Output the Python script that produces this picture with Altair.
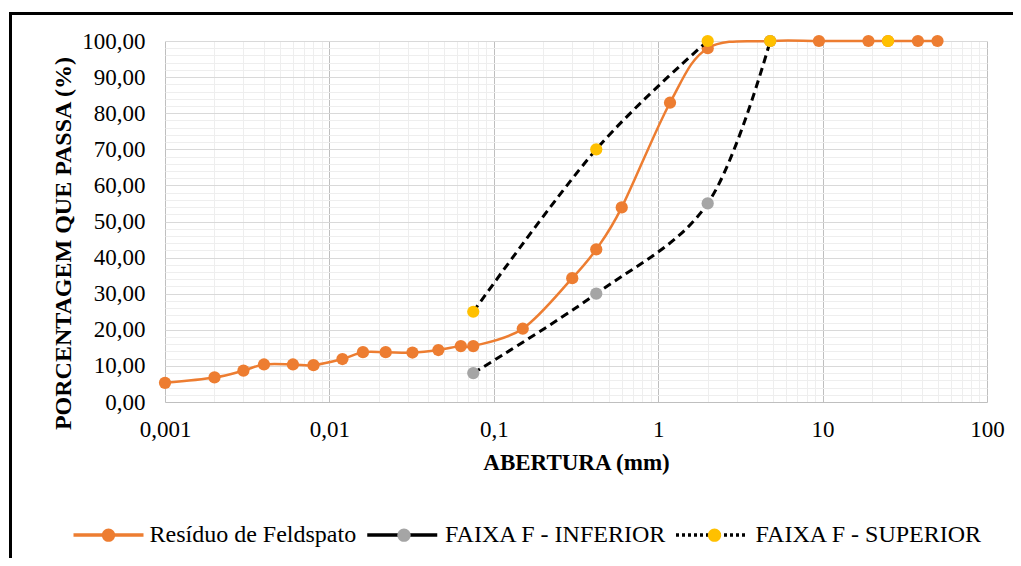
import altair as alt
import pandas as pd

FONT = "Liberation Serif"
SERIES = ["Resíduo de Feldspato", "FAIXA F - INFERIOR", "FAIXA F - SUPERIOR"]
LINE_KEYS = ["L1", "L2", "L3"]

# Resíduo de Feldspato
res_x = [0.001, 0.002, 0.003, 0.004, 0.006, 0.008, 0.012, 0.016, 0.022, 0.032,
         0.046, 0.063, 0.075, 0.15, 0.3, 0.42, 0.6, 1.18, 2.0, 4.8, 9.5, 19.0,
         25.0, 38.0, 50.0]
res_y = [5.3, 6.8, 8.7, 10.4, 10.4, 10.2, 11.9, 13.8, 13.8, 13.7,
         14.4, 15.5, 15.5, 20.3, 34.3, 42.3, 53.9, 82.9, 98.0, 100.0, 100.0, 100.0,
         100.0, 100.0, 100.0]
# FAIXA F - INFERIOR
inf_x = [0.075, 0.42, 2.0, 4.8]
inf_y = [8.0, 30.0, 55.0, 100.0]
# FAIXA F - SUPERIOR (line) and its extra markers
sup_x = [0.075, 0.42, 2.0]
sup_y = [25.0, 70.0, 100.0]
sup_extra_x = [4.8, 25.0]
sup_extra_y = [100.0, 100.0]

# axis ticks / grids
x_major = [0.001, 0.01, 0.1, 1, 10, 100]
x_minor = [round(k * d, 6) for d in [0.001, 0.01, 0.1, 1, 10] for k in range(2, 10)]
y_major = list(range(0, 101, 10))
y_minor = [v for v in range(0, 101, 2) if v % 10 != 0]

ORANGE, GRAY, YELLOW = "#ED7D31", "#A5A5A5", "#FFC000"

res_df = pd.DataFrame({"x": res_x, "y": res_y, "serie": SERIES[0]})
inf_df = pd.DataFrame({"x": inf_x, "y": inf_y, "serie": SERIES[1]})
sup_df = pd.DataFrame({"x": sup_x, "y": sup_y, "serie": SERIES[2]})
sup_pts_df = pd.DataFrame({"x": sup_x + sup_extra_x, "y": sup_y + sup_extra_y, "serie": SERIES[2]})
legend_df = pd.DataFrame({"x": [1.0, 1.0, 1.0], "y": [50.0, 50.0, 50.0], "linha": LINE_KEYS})

xscale = alt.Scale(type="log", domain=[0.001, 100], nice=False)
yscale = alt.Scale(domain=[0, 100], nice=False)
fill_scale = alt.Scale(domain=SERIES, range=[ORANGE, GRAY, YELLOW])
stroke_scale = alt.Scale(domain=LINE_KEYS, range=[ORANGE, "#000000", "#000000"])
dash_scale = alt.Scale(domain=LINE_KEYS, range=[[1, 0], [1, 0], [3, 3]])

key_label_expr = " : ".join(
    f"datum.label == '{k}' ? '{s}'" for k, s in zip(LINE_KEYS, SERIES)
) + " : datum.label"

LEG_X, LEG_Y = -93.5, 457
circle_path = "M-0.19,0A0.19,0.19 0 1,1 0.19,0A0.19,0.19 0 1,1 -0.19,0Z"
common_leg = dict(title=None, orient="none", legendX=LEG_X, legendY=LEG_Y,
                  direction="horizontal", columns=3,
                  labelFont=FONT, labelFontSize=24, labelOffset=4, labelLimit=0,
                  symbolSize=4900, symbolStrokeWidth=3.5)
fill_legend = alt.Legend(labelColor="black", symbolType=circle_path, columnPadding=10.5,
                         symbolStrokeColor="transparent", zindex=2, **common_leg)
stroke_legend = alt.Legend(labelColor="black", labelOpacity=0, symbolType="stroke",
                           columnPadding=3.75, labelExpr=key_label_expr, zindex=1,
                           **common_leg)

X_none = alt.X("x:Q", scale=xscale, axis=None)
Y_none = alt.Y("y:Q", scale=yscale, axis=None)

# minor grid layer
minor = alt.Chart(pd.DataFrame({"x": [1.0], "y": [50.0]})).mark_point(opacity=0).encode(
    x=alt.X("x:Q", scale=xscale, axis=alt.Axis(values=x_minor, orient="top", labels=False,
            ticks=False, domain=False, grid=True, gridColor="#EEEEEE", title=None)),
    y=alt.Y("y:Q", scale=yscale, axis=alt.Axis(values=y_minor, orient="right", labels=False,
            ticks=False, domain=False, grid=True, gridColor="#EEEEEE", title=None)),
)

# main axes layer
axes = alt.Chart(pd.DataFrame({"x": [1.0], "y": [50.0]})).mark_point(opacity=0).encode(
    x=alt.X("x:Q", scale=xscale, axis=alt.Axis(
        values=x_major, orient="bottom", labelExpr="replace(toString(datum.value), '.', ',')",
        labelFont=FONT, labelFontSize=23, labelColor="black", labelPadding=16,
        labelFlush=False, labelOverlap=False, ticks=False, domain=True,
        domainColor="#BFBFBF", grid=True, gridColor="#BFBFBF",
        title="ABERTURA (mm)", titleFont=FONT, titleFontSize=23, titleFontWeight="bold",
        titleColor="black", titlePadding=10)),
    y=alt.Y("y:Q", scale=yscale, axis=alt.Axis(
        values=y_major, orient="left", labelExpr="replace(format(datum.value, '.2f'), '.', ',')",
        labelFont=FONT, labelFontSize=23, labelColor="black", labelPadding=20,
        labelFlush=False, labelOverlap=False, ticks=False, domain=False,
        grid=True, gridColor="#D9D9D9",
        title="PORCENTAGEM QUE PASSA (%)", titleFont=FONT, titleFontSize=24,
        titleFontWeight="bold", titleColor="black", titlePadding=6, titleY=202)),
)

def series_layers(line_df, pts_df, color, dash):
    line_kw = dict(color=color, strokeWidth=2.5 if dash is None else 3, interpolate="cardinal")
    if dash is not None:
        line_kw["strokeDash"] = dash
    line = alt.Chart(line_df).mark_line(**line_kw).encode(x=X_none, y=Y_none)
    pts = alt.Chart(pts_df).mark_point(filled=True, size=150, opacity=1).encode(
        x=X_none, y=Y_none,
        fill=alt.Fill("serie:N", scale=fill_scale, legend=fill_legend),
    )
    return [line, pts]

legend_layer = alt.Chart(legend_df).mark_line().encode(
    x=X_none, y=Y_none,
    stroke=alt.Stroke("linha:N", scale=stroke_scale, legend=stroke_legend),
    strokeDash=alt.StrokeDash("linha:N", scale=dash_scale, legend=stroke_legend),
).transform_filter("datum.y > 1000")

frame = alt.Chart(pd.DataFrame({"k": [1]})).mark_rect(
    fill="transparent", stroke="black", strokeWidth=3
).encode(x=alt.value(-154.5), x2=alt.value(900), y=alt.value(-27.5), y2=alt.value(600))

layers = [minor, axes, legend_layer]
layers += series_layers(res_df, res_df, ORANGE, None)
layers += series_layers(inf_df, inf_df, "#000000", [8, 5])
layers += series_layers(sup_df, sup_pts_df, "#000000", [8, 5])
layers += [frame]

chart = alt.layer(*layers).resolve_axis(x="independent", y="independent").properties(
    width=822, height=361,
    autosize=alt.AutoSizeParams(type="none"),
    padding={"left": 157, "top": 33, "right": 26, "bottom": 156},
    background="white",
).configure_view(stroke=None)

chart.save("out.html", embed_options={"renderer": "svg", "actions": False})
